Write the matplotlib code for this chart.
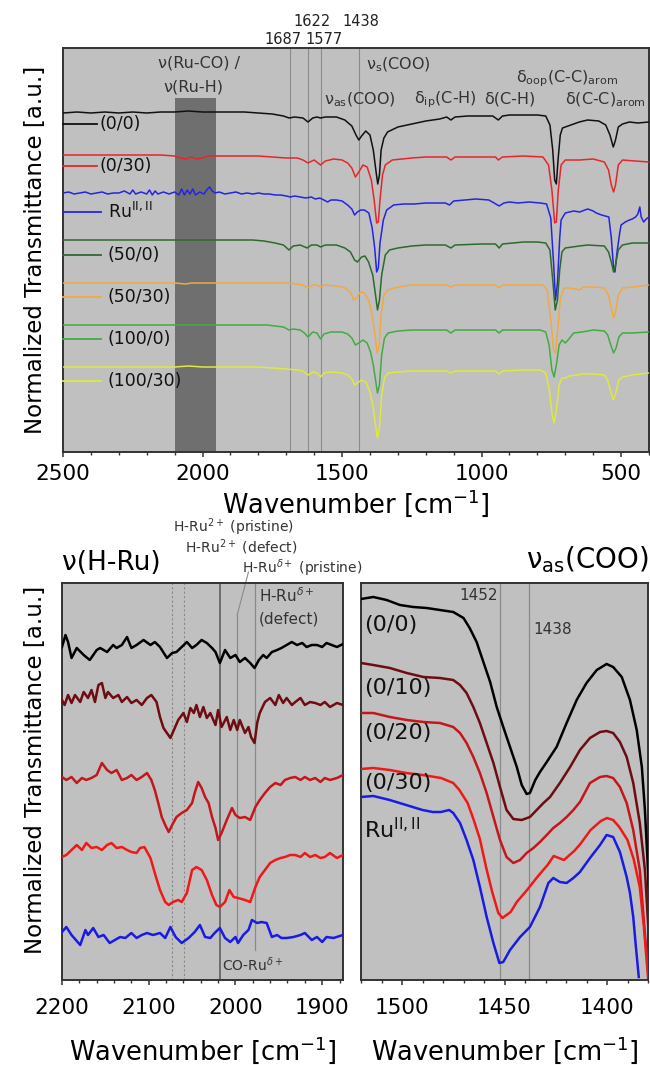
import matplotlib
matplotlib.use('Agg')
import matplotlib.pyplot as plt
from matplotlib.ticker import MultipleLocator

plt.rcParams['font.family'] = ['DejaVu Sans']
plt.rcParams['mathtext.fontset'] = 'dejavusans'

# ================= TOP PANEL DATA (wavenumber, transmittance relative to offset) =================
top_labels = ['(0/0)', '(0/30)', r'Ru$^{\mathrm{II,II}}$', '(50/0)', '(50/30)', '(100/0)', '(100/30)']
top_colors = ['#111111', '#e8252a', '#2424e6', '#2d6a2d', '#f2a941', '#44aa44', '#dfe83c']
top_offsets = [339, 297, 259, 212, 169, 127, 85]

top_black = [(2500,0),(2450,1),(2400,0),(2350,1),(2300,0),(2250,1),(2200,0),(2150,1),(2100,1),(2050,2),
             (2000,1),(1950,1),(1900,1),(1850,1),(1800,0),(1750,-1),(1710,-3),(1690,-5),(1670,-4),(1640,-5),
             (1622,-9),(1605,-5),(1590,-4),(1577,-5),(1560,-4),(1520,-4),(1490,-7),(1465,-13),(1450,-22),
             (1440,-27),(1430,-23),(1415,-18),(1400,-22),(1388,-37),(1378,-59),(1372,-71),(1366,-62),(1360,-37),
             (1350,-25),(1337,-19),(1300,-14),(1250,-11),(1200,-8),(1150,-6),(1125,-4),(1110,-7),(1095,-4),
             (1050,-3),(1000,-3),(960,-3),(940,-7),(925,-3),(900,-2),(850,-2),(800,-2),(770,-3),(755,-12),
             (745,-37),(738,-67),(732,-71),(726,-47),(718,-22),(710,-15),(700,-14),(680,-12),(650,-9),(620,-7),
             (580,-8),(555,-12),(540,-22),(528,-34),(520,-27),(510,-14),(495,-11),(470,-9),(440,-10),(400,-9)]

top_red = [(2500,0),(2400,0),(2300,0),(2200,0),(2150,0),(2100,-1),(2080,-3),(2060,-4),(2040,-2),(2020,-4),
           (2000,-3),(1980,-1),(1950,-1),(1900,-1),(1850,-1),(1800,-1),(1750,-2),(1700,-3),(1660,-3),(1640,-5),
           (1622,-8),(1600,-5),(1577,-10),(1560,-6),(1530,-4),(1500,-5),(1480,-8),(1465,-13),(1452,-22),
           (1440,-17),(1425,-10),(1410,-12),(1395,-25),(1385,-45),(1376,-68),(1370,-67),(1364,-45),(1355,-20),
           (1345,-10),(1320,-5),(1250,-3),(1200,-2),(1125,-2),(1110,-5),(1095,-2),(1000,-2),(950,-2),(940,-5),
           (925,-2),(850,-1),(780,-2),(760,-10),(748,-35),(738,-68),(732,-67),(725,-35),(715,-10),(700,-5),
           (650,-5),(600,-4),(560,-7),(545,-15),(535,-30),(527,-37),(520,-30),(510,-10),(495,-5),(450,-6),(400,-7)]

top_blue = [(2500,0),(2480,1),(2460,-1),(2440,0),(2420,1),(2400,-1),(2380,0),(2360,1),(2340,-1),(2320,0),
            (2300,0),(2280,2),(2260,-1),(2250,3),(2240,-1),(2220,1),(2200,-1),(2190,3),(2180,-2),(2170,2),
            (2160,-1),(2140,1),(2120,-1),(2100,1),(2085,-2),(2075,4),(2065,-2),(2055,3),(2045,-1),(2035,4),
            (2025,-2),(2010,1),(1995,-1),(1985,3),(1975,6),(1965,2),(1955,0),(1940,1),(1920,-1),(1900,0),
            (1880,1),(1860,-1),(1840,0),(1820,-1),(1800,0),(1780,-1),(1760,-1),(1740,-2),(1720,-2),(1700,-3),
            (1685,-4),(1670,-3),(1650,-4),(1630,-5),(1610,-4),(1596,-6),(1580,-5),(1565,-7),(1552,-9),(1540,-7),
            (1520,-7),(1500,-8),(1480,-12),(1465,-16),(1455,-22),(1445,-19),(1433,-17),(1420,-17),(1404,-20),
            (1392,-35),(1383,-55),(1376,-79),(1370,-75),(1364,-50),(1352,-27),(1340,-17),(1315,-12),(1280,-11),
            (1241,-11),(1200,-10),(1130,-10),(1115,-12),(1100,-8),(1060,-7),(1020,-6),(974,-7),(955,-10),
            (937,-13),(920,-10),(900,-9),(870,-10),(830,-9),(790,-10),(767,-11),(752,-25),(742,-70),(735,-107),
            (728,-90),(720,-45),(715,-27),(700,-20),(685,-19),(670,-18),(648,-19),(630,-17),(619,-16),(600,-18),
            (589,-20),(570,-22),(544,-24),(535,-45),(527,-75),(522,-79),(515,-60),(505,-40),(500,-32),(485,-29),
            (470,-27),(460,-26),(448,-24),(440,-21),(433,-14),(428,-24),(419,-29),(410,-26),(400,-24)]

top_dgreen = [(2500,0),(2400,0),(2300,0),(2200,0),(2100,0),(2000,0),(1900,0),(1820,0),(1780,-1),(1740,-3),
              (1710,-5),(1690,-10),(1675,-6),(1650,-5),(1625,-8),(1610,-5),(1590,-5),(1577,-7),(1560,-5),
              (1520,-5),(1490,-8),(1470,-12),(1455,-20),(1445,-22),(1430,-17),(1418,-16),(1405,-22),(1390,-35),
              (1380,-55),(1373,-70),(1366,-60),(1358,-35),(1345,-15),(1330,-10),(1300,-8),(1250,-6),(1200,-5),
              (1130,-5),(1110,-8),(1095,-5),(1000,-4),(950,-4),(937,-8),(925,-4),(850,-2),(800,-2),(770,-3),
              (755,-10),(745,-40),(736,-70),(728,-60),(720,-30),(712,-12),(700,-8),(650,-6),(620,-5),(560,-6),
              (545,-12),(535,-22),(527,-32),(520,-25),(510,-10),(495,-5),(460,-3),(400,-3)]

top_orange = [(2500,0),(2400,0),(2300,0),(2200,0),(2100,0),(2060,-1),(2040,0),(2000,0),(1950,0),(1900,0),
              (1800,0),(1700,0),(1660,-1),(1640,-2),(1622,-5),(1605,-2),(1590,-2),(1577,-4),(1560,-2),(1520,-3),
              (1490,-5),(1470,-9),(1458,-17),(1448,-15),(1435,-9),(1420,-10),(1405,-17),(1392,-32),(1382,-52),
              (1374,-70),(1367,-62),(1360,-32),(1350,-12),(1337,-7),(1300,-4),(1250,-2),(1200,-2),(1125,-2),
              (1110,-4),(1095,-2),(1000,-2),(950,-2),(937,-5),(925,-2),(850,-2),(780,-2),(765,-7),(752,-37),
              (742,-67),(735,-70),(727,-47),(718,-17),(705,-5),(690,-5),(660,-6),(648,-7),(635,-4),(600,-4),
              (560,-5),(545,-12),(535,-25),(527,-35),(520,-29),(510,-12),(495,-5),(460,-4),(400,-2)]

top_green = [(2500,0),(2400,0),(2300,0),(2200,0),(2150,0),(2100,0),(2000,0),(1900,0),(1800,0),(1770,0),
             (1740,-1),(1710,-2),(1690,-5),(1675,-4),(1650,-5),(1635,-8),(1622,-12),(1605,-7),(1590,-8),
             (1577,-14),(1565,-9),(1540,-7),(1500,-7),(1480,-9),(1465,-13),(1452,-20),(1440,-18),(1425,-15),
             (1410,-18),(1398,-27),(1388,-40),(1380,-55),(1373,-68),(1366,-60),(1358,-30),(1348,-13),(1335,-8),
             (1300,-6),(1250,-5),(1200,-5),(1125,-5),(1110,-8),(1095,-5),(1000,-5),(950,-5),(937,-8),(925,-5),
             (850,-5),(790,-5),(770,-7),(758,-20),(748,-45),(740,-52),(732,-40),(722,-20),(712,-15),(700,-18),
             (690,-15),(670,-8),(640,-7),(600,-5),(560,-6),(548,-10),(537,-20),(527,-28),(518,-23),(508,-12),
             (495,-8),(460,-8),(400,-7)]

top_yellow = [(2500,0),(2400,0),(2300,0),(2200,0),(2100,0),(2050,1),(2000,0),(1950,0),(1900,0),(1800,0),
              (1750,-1),(1700,-2),(1660,-3),(1640,-4),(1622,-8),(1605,-5),(1590,-6),(1577,-10),(1565,-6),
              (1540,-5),(1500,-6),(1480,-8),(1465,-12),(1455,-18),(1445,-16),(1430,-13),(1415,-15),(1400,-25),
              (1390,-38),(1380,-58),(1373,-71),(1366,-61),(1358,-28),(1348,-11),(1335,-6),(1300,-5),(1250,-4),
              (1200,-4),(1125,-4),(1110,-6),(1095,-4),(1000,-4),(950,-4),(937,-7),(925,-4),(850,-3),(790,-3),
              (770,-6),(757,-23),(747,-48),(740,-56),(732,-43),(722,-18),(712,-11),(700,-11),(685,-9),(660,-8),
              (640,-7),(600,-7),(560,-8),(548,-13),(537,-25),(528,-33),(519,-26),(508,-13),(495,-10),(460,-8),
              (400,-6)]

top_series = [top_black, top_red, top_blue, top_dgreen, top_orange, top_green, top_yellow]
top_marker_lines = [1687, 1622, 1577, 1438]
ru_band = (2100, 1950)

# ================= BOTTOM-LEFT DATA: nu(H-Ru) =================
hru_labels = ['(0/0)', '(0/10)', '(0/20)', '(0/30)', 'RuII,II']
hru_colors = ['#000000', '#6e0c12', '#c4161c', '#f01818', '#1a1ae6']

hru_00 = [(2200,331),(2196,343),(2193,336),(2189,320),(2183,330),(2175,323),(2168,318),(2160,328),(2156,330),
          (2148,326),(2141,333),(2137,330),(2131,333),(2125,341),(2120,330),(2114,333),(2106,338),(2098,333),
          (2093,336),(2087,331),(2079,320),(2073,325),(2068,326),(2062,331),(2056,336),(2050,330),(2045,333),
          (2039,338),(2033,335),(2027,330),(2023,326),(2018,315),(2012,328),(2006,320),(2000,323),(1995,316),
          (1989,320),(1983,315),(1978,310),(1973,318),(1968,323),(1964,320),(1958,326),(1952,328),(1947,330),
          (1941,333),(1935,336),(1929,333),(1923,335),(1918,331),(1912,333),(1906,333),(1900,331),(1895,335),
          (1889,333),(1883,331),(1876,334)]

hru_010 = [(2200,278),(2197,273),(2193,283),(2189,275),(2185,283),(2179,276),(2175,286),(2170,280),(2166,288),
           (2162,276),(2158,293),(2154,295),(2150,280),(2147,286),(2141,280),(2135,283),(2131,276),(2125,281),
           (2120,275),(2114,278),(2108,273),(2102,280),(2097,283),(2091,276),(2087,261),(2083,250),(2079,245),
           (2075,240),(2072,246),(2066,258),(2060,265),(2056,256),(2052,270),(2048,265),(2045,273),(2041,261),
           (2037,271),(2033,260),(2029,265),(2023,253),(2020,268),(2016,251),(2010,261),(2006,248),(2002,258),
           (1998,248),(1995,258),(1989,245),(1985,251),(1982,241),(1978,235),(1975,255),(1972,265),(1966,276),
           (1960,280),(1954,273),(1950,283),(1945,275),(1941,280),(1935,273),(1931,276),(1925,280),(1920,273),
           (1914,276),(1908,275),(1902,273),(1897,276),(1891,271),(1883,275),(1876,273)]

hru_020 = [(2200,201),(2195,198),(2189,201),(2183,195),(2177,200),(2172,198),(2166,200),(2160,203),(2154,215),
           (2148,208),(2143,205),(2137,208),(2131,198),(2125,200),(2120,203),(2114,198),(2108,201),(2102,205),
           (2097,198),(2093,188),(2089,175),(2085,161),(2081,153),(2077,146),(2073,153),(2068,161),(2062,165),
           (2056,168),(2050,175),(2047,185),(2043,196),(2039,190),(2035,181),(2031,175),(2027,161),(2023,150),
           (2020,138),(2016,145),(2010,158),(2004,170),(2000,163),(1995,160),(1989,161),(1983,158),(1977,171),
           (1972,178),(1966,185),(1960,191),(1954,195),(1948,193),(1943,198),(1937,200),(1931,201),(1925,198),
           (1920,201),(1914,198),(1908,200),(1902,196),(1897,200),(1891,198),(1883,200),(1876,203)]

hru_030 = [(2200,121),(2195,123),(2189,128),(2183,133),(2177,128),(2172,135),(2166,130),(2160,131),(2154,128),
           (2148,133),(2143,135),(2137,130),(2131,131),(2125,128),(2120,126),(2114,125),(2110,130),(2105,131),
           (2098,120),(2093,105),(2087,88),(2081,76),(2077,73),(2072,76),(2066,78),(2062,76),(2056,85),
           (2050,108),(2045,111),(2039,108),(2033,98),(2027,83),(2022,73),(2018,71),(2012,76),(2007,88),
           (2002,81),(1997,80),(1989,78),(1983,76),(1977,91),(1972,101),(1966,108),(1960,115),(1954,118),
           (1948,120),(1943,121),(1937,123),(1931,123),(1925,121),(1920,125),(1914,121),(1908,123),(1902,120),
           (1897,121),(1891,125),(1883,120),(1876,123)]

hru_ru = [(2200,46),(2195,51),(2189,43),(2179,33),(2173,48),(2170,43),(2164,50),(2158,41),(2152,43),(2145,35),
          (2139,38),(2133,41),(2127,40),(2120,45),(2114,40),(2108,43),(2102,45),(2095,43),(2087,45),(2081,40),
          (2075,51),(2069,41),(2062,35),(2054,40),(2047,46),(2041,53),(2035,41),(2029,40),(2024,45),(2018,50),
          (2012,40),(2006,36),(2000,41),(1997,35),(1991,43),(1985,48),(1981,58),(1975,55),(1970,56),(1964,55),
          (1958,41),(1952,43),(1947,40),(1941,40),(1933,41),(1925,43),(1920,45),(1912,38),(1906,41),(1900,36),
          (1895,41),(1887,40),(1876,43)]

hru_series = [hru_00, hru_010, hru_020, hru_030, hru_ru]

# ================= BOTTOM-RIGHT DATA: nu_as(COO) =================
coo_labels = ['(0/0)', '(0/10)', '(0/20)', '(0/30)', r'Ru$^{\mathrm{II,II}}$']
coo_colors = ['#000000', '#6e0c12', '#c4161c', '#f01818', '#1a1ae6']

coo_00 = [(1520,378),(1514,380),(1507.5,377),(1501,372),(1494.5,370),(1488,369),(1481.5,367),(1475,365),
          (1470,359),(1467,349),(1463.6,335),(1460.3,315),(1457,295),(1453.8,270),(1450.6,250),(1447.3,230),
          (1444,210),(1441.6,192),(1439.2,183),(1437.6,184),(1435,197),(1432.7,205),(1429.4,215),(1424.6,230),
          (1419.7,254),(1414.8,277),(1410,294),(1405,307),(1400.2,313),(1397,310),(1392.8,300),(1388.8,277),
          (1385.5,247),(1383,210),(1381.5,167),(1380,107),(1378,30)]

coo_010 = [(1520,314),(1514,312),(1505.9,309),(1497.7,304),(1489.6,300),(1481.5,299),(1475,297),(1471.7,292),
           (1468.5,284),(1465.2,270),(1462,254),(1458.7,234),(1455.4,214),(1452.2,190),(1449,167),(1445.7,158),
           (1441.6,157),(1437.6,160),(1434.3,167),(1431,174),(1427.8,180),(1423,194),(1418,210),(1413.2,227),
           (1408.3,239),(1403.4,245),(1400.2,246),(1397,244),(1393.7,235),(1390.4,220),(1387.2,194),(1384,154),
           (1381.5,107),(1379,20)]

coo_020 = [(1520,264),(1514,264),(1505.9,260),(1497.7,257),(1489.6,255),(1481.5,254),(1475,250),(1471.7,244),
           (1468.5,234),(1465.2,220),(1462,204),(1458.7,184),(1455.4,160),(1452.2,137),(1449,120),(1445.7,114),
           (1442.4,117),(1439.2,124),(1435.9,129),(1432.7,135),(1429.4,142),(1426.2,149),(1423,154),(1419.7,160),
           (1416.4,167),(1413.2,175),(1408.3,194),(1403.4,200),(1400.2,201),(1397,199),(1393.7,190),(1390.4,174),
           (1387.2,147),(1384,107),(1381,30),(1379,0)]

coo_030 = [(1520,208),(1514,209),(1506,207),(1498,204),(1490,202),(1481,199),(1475,194),(1472,187),(1468,174),
           (1465,157),(1462,138),(1459,110),(1456,85),(1453,64),(1451,59),(1447,65),(1444,75),(1439,87),
           (1434,100),(1429,112),(1426,121),(1421,117),(1416,126),(1413,133),(1408,147),(1403,156),(1400,159),
           (1397,157),(1394,150),(1390,137),(1387,118),(1384,90),(1382,50),(1380,0)]

coo_ru = [(1520,180),(1514,181),(1506,177),(1498,172),(1490,167),(1485,165),(1481,165),(1477,167),(1475,164),
          (1471.7,154),(1468.5,137),(1465.2,117),(1462,90),(1458.7,60),(1455.4,34),(1452.5,14),(1450.6,15),
          (1447.3,27),(1442.4,40),(1437.6,50),(1432.7,70),(1428.6,94),(1426.2,99),(1423,95),(1419.7,94),
          (1416.4,99),(1413.2,105),(1408.3,119),(1403.4,132),(1400.2,142),(1397,140),(1393.7,125),(1390.4,100),
          (1388.8,84),(1387.2,60),(1385.9,30),(1384.5,0)]

coo_series = [coo_00, coo_010, coo_020, coo_030, coo_ru]
coo_marker_lines = [1452, 1438]

# ================= FIGURE =================
W, H = 650, 1065
fig = plt.figure(figsize=(6.5, 10.65), dpi=100)
BG = '#c0c0c0'
SPINE = '#333333'
ANN = '#333333'


def ftext(x, y, s, **kw):
    fig.text(x / W, 1 - y / H, s, **kw)


def style_axis(ax, pad):
    ax.set_facecolor(BG)
    for sp in ax.spines.values():
        sp.set_color(SPINE)
        sp.set_linewidth(1.4)
    ax.set_yticks([])
    ax.tick_params(axis='x', which='major', direction='out', length=3.8, width=1.1,
                   labelsize=15.5, pad=pad, color=SPINE)
    ax.tick_params(axis='x', which='minor', direction='out', length=2.2, width=1.0, color=SPINE)


# ---------- top ----------
ax = fig.add_axes([63 / W, 1 - 452 / H, (649 - 63) / W, (452 - 48) / H])
style_axis(ax, 5.0)
ax.set_xlim(2500, 400)
ax.set_ylim(0, 404)
ax.xaxis.set_major_locator(MultipleLocator(500))
ax.xaxis.set_minor_locator(MultipleLocator(100))
ax.axvspan(ru_band[0], ru_band[1], ymin=0, ymax=354 / 404, color='#6f6f6f', zorder=1, lw=0)
for v in top_marker_lines:
    ax.axvline(v, color='#8a8a8a', lw=0.8, zorder=1.5)
legend_gap = [11, 11, 19, 15, 14, 14, 14]
for i, (ser, col, off, lab) in enumerate(zip(top_series, top_colors, top_offsets, top_labels)):
    xs = [p[0] for p in ser]
    ys = [off + p[1] for p in ser]
    ax.plot(xs, ys, color=col, lw=1.1, zorder=3)
    ly = off - legend_gap[i]
    if i < 2:
        ax.plot([2500, 2379], [ly, ly], color=col, lw=1.3, zorder=3, clip_on=False)
        ax.text(2368, ly, lab, fontsize=12.5, va='center', ha='left', color='#111111')
    else:
        ax.plot([2500, 2364], [ly, ly], color=col, lw=1.3, zorder=3, clip_on=False)
        ax.text(2339, ly, lab, fontsize=12.5, va='center', ha='left', color='#111111')
ax.set_xlabel(r'Wavenumber [cm$^{-1}$]', fontsize=18.5, labelpad=2.5)

ftext(36, 250, 'Normalized Transmittance [a.u.]', rotation=90, fontsize=16.5, ha='center', va='center')

num_kw = dict(fontsize=10.5, ha='center', va='center', color='#222222')
ftext(312, 22, '1622', **num_kw)
ftext(361, 22, '1438', **num_kw)
ftext(283, 39, '1687', **num_kw)
ftext(324, 39, '1577', **num_kw)

ann_kw = dict(fontsize=11.5, ha='center', va='center', color=ANN)
ftext(199, 63, 'ν(Ru-CO) /', **ann_kw)
ftext(193, 87, 'ν(Ru-H)', **ann_kw)
ftext(398, 65, r'ν$_\mathrm{s}$(COO)', **ann_kw)
ftext(360, 100, r'ν$_\mathrm{as}$(COO)', **ann_kw)
ftext(445, 100, r'δ$_\mathrm{ip}$(C-H)', **ann_kw)
ftext(510, 99, 'δ(C-H)', **ann_kw)
ftext(567, 79, r'δ$_\mathrm{oop}$(C-C)$_\mathrm{arom}$', **ann_kw)
ftext(605, 100, r'δ(C-C)$_\mathrm{arom}$', **ann_kw)

# ---------- bottom left ----------
axl = fig.add_axes([62 / W, 1 - 980 / H, (343 - 62) / W, (980 - 583) / H])
style_axis(axl, 9)
axl.set_xlim(2200, 1876)
axl.set_ylim(-2, 395)
axl.xaxis.set_major_locator(MultipleLocator(100))
axl.xaxis.set_minor_locator(MultipleLocator(20))
axl.axvline(2073, color='#8a8a8a', lw=0.8, ls=(0, (2, 2)), zorder=1)
axl.axvline(2059, color='#8a8a8a', lw=0.8, ls=(0, (2, 2)), zorder=1)
axl.axvline(2018, color='#555555', lw=1.1, zorder=1)
axl.plot([1998, 1998], [35, 363], color='#8a8a8a', lw=0.9, zorder=1)
axl.plot([1977, 1977], [28, 395], color='#8a8a8a', lw=0.9, zorder=1)
axl.plot([1998, 1985], [363, 406], color='#8a8a8a', lw=0.8, zorder=1, clip_on=False)
for ser, col in zip(hru_series, hru_colors):
    axl.plot([p[0] for p in ser], [p[1] for p in ser], color=col, lw=1.8, zorder=3)
axl.set_xlabel(r'Wavenumber [cm$^{-1}$]', fontsize=18.5, labelpad=12)
axl.text(1973, 382, r'H-Ru$^{\delta+}$', fontsize=11, ha='left', va='center', color=ANN)
axl.text(1973, 359, '(defect)', fontsize=11, ha='left', va='center', color=ANN)
axl.text(2015, 13, r'CO-Ru$^{\delta+}$', fontsize=10, ha='left', va='center', color=ANN)

ftext(36, 770, 'Normalized Transmittance [a.u.]', rotation=90, fontsize=16.5, ha='center', va='center')
ftext(62, 563, 'ν(H-Ru)', fontsize=19, ha='left', va='center')
ftext(233, 527, r'H-Ru$^{2+}$ (pristine)', fontsize=10, ha='center', va='center', color=ANN)
ftext(241, 547, r'H-Ru$^{2+}$ (defect)', fontsize=10, ha='center', va='center', color=ANN)
ftext(302, 568, r'H-Ru$^{\delta+}$ (pristine)', fontsize=10, ha='center', va='center', color=ANN)

# ---------- bottom right ----------
axr = fig.add_axes([361 / W, 1 - 980 / H, (648 - 361) / W, (980 - 583) / H])
style_axis(axr, 9)
axr.set_xlim(1520, 1380)
axr.set_ylim(-3, 394)
axr.xaxis.set_major_locator(MultipleLocator(50))
axr.xaxis.set_minor_locator(MultipleLocator(10))
for v in coo_marker_lines:
    axr.axvline(v, color='#8a8a8a', lw=0.9, zorder=1)
for ser, col in zip(coo_series, coo_colors):
    axr.plot([p[0] for p in ser], [p[1] for p in ser], color=col, lw=1.8, zorder=3)
axr.set_xlabel(r'Wavenumber [cm$^{-1}$]', fontsize=18.5, labelpad=12)
coo_label_y = [352, 289, 244, 194, 147]
for lab, ly in zip(coo_labels, coo_label_y):
    axr.text(1518.5, ly, lab, fontsize=16, ha='left', va='center', color='#111111')
axr.text(1453.5, 382, '1452', fontsize=11, ha='right', va='center', color=ANN)
axr.text(1436, 347, '1438', fontsize=11, ha='left', va='center', color=ANN)
ftext(649, 560, r'ν$_\mathrm{as}$(COO)', fontsize=20, ha='right', va='center')

fig.savefig('out.png', dpi=100)
